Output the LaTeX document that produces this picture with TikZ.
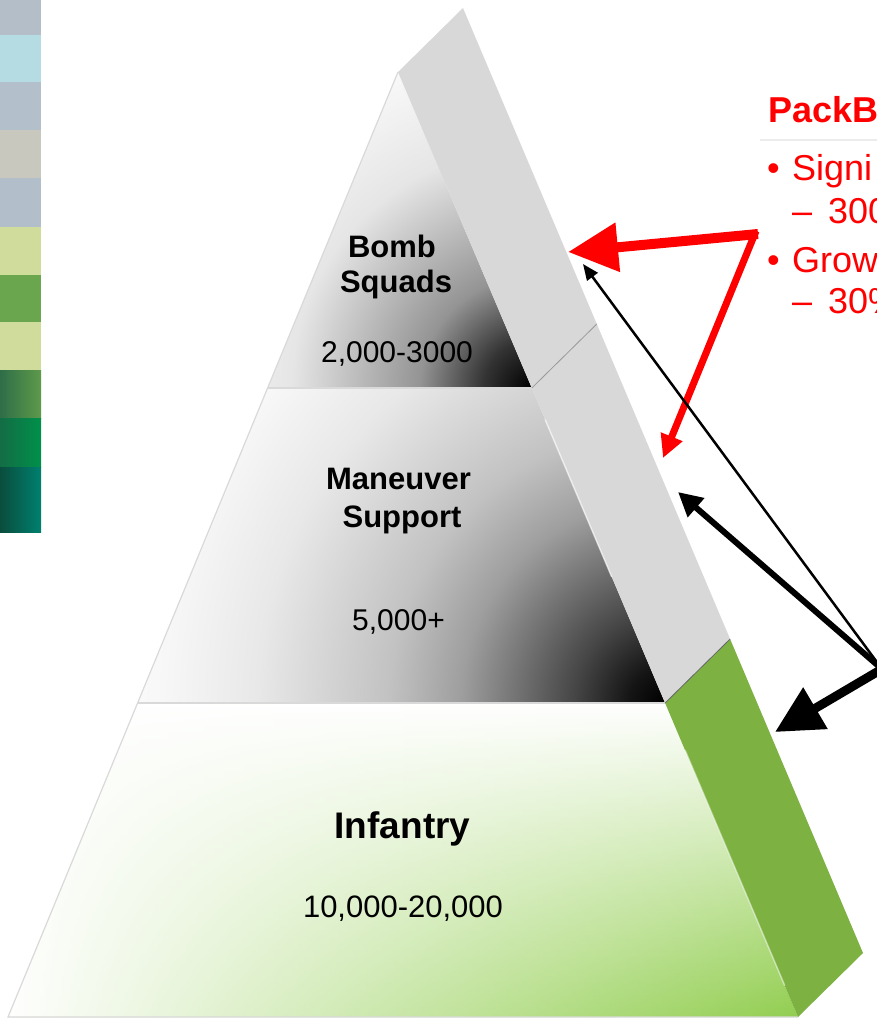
\documentclass[tikz,border=0pt]{standalone}
\usepackage{fontspec}
\setmainfont{Liberation Sans}
\usetikzlibrary{arrows.meta,fadings,calc}

\definecolor{sidegray}{RGB}{216,216,216}
\definecolor{sidegreen}{RGB}{125,178,66}
\definecolor{basegreen}{RGB}{146,206,80}
\definecolor{redtxt}{RGB}{255,0,0}
\definecolor{sA}{RGB}{180,190,200}
\definecolor{sB}{RGB}{181,219,227}
\definecolor{sC}{RGB}{179,191,202}
\definecolor{sD}{RGB}{200,200,190}
\definecolor{sE}{RGB}{178,191,202}
\definecolor{sF}{RGB}{208,220,156}
\definecolor{sG}{RGB}{106,166,78}
\definecolor{sH}{RGB}{208,220,156}
\definecolor{sIl}{RGB}{46,110,72}
\definecolor{sIr}{RGB}{94,154,74}
\definecolor{sJl}{RGB}{19,109,69}
\definecolor{sJr}{RGB}{0,144,74}
\definecolor{sKl}{RGB}{10,77,60}
\definecolor{sKr}{RGB}{0,128,112}

\pgfdeclareradialshading{darkA}{\pgfpoint{0bp}{0bp}}{color(0bp)=(black); color(3bp)=(black!80); color(7bp)=(black!42); color(12.5bp)=(black!20); color(15bp)=(black!10); color(21bp)=(black!3); color(25bp)=(white); color(50bp)=(white)}
\pgfdeclareradialshading{darkB}{\pgfpoint{0bp}{0bp}}{color(0bp)=(black); color(1.5bp)=(black!92); color(3.75bp)=(black!73); color(8.5bp)=(black!38); color(11.5bp)=(black!24); color(17bp)=(black!9); color(21bp)=(black!3); color(25bp)=(white); color(50bp)=(white)}
\tikzfading[name=fadeR, left color=transparent!0, middle color=transparent!65, right color=transparent!100]

\tikzset{
  lbl/.style={anchor=base, inner sep=0pt, font=\fontsize{30}{36}\selectfont},
  lblb/.style={lbl, font=\fontsize{31}{36}\selectfont\bfseries},
  lblbig/.style={lbl, font=\fontsize{37}{42}\selectfont\bfseries},
  rtxt/.style={anchor=base west, inner sep=0pt, text=redtxt, font=\fontsize{36}{42}\selectfont},
  rtxtb/.style={rtxt, font=\fontsize{36}{42}\selectfont\bfseries},
  outl/.style={draw=gray!30, line width=1.2pt},
}

\begin{document}
\begin{tikzpicture}[x=1pt,y=-1pt]
\useasboundingbox (0,0) rectangle (877,1021);
\clip (0,0) rectangle (877,1021);

% left colour strip
\fill[sA] (0,0) rectangle (41,35);
\fill[sB] (0,35) rectangle (41,82);
\fill[sC] (0,82) rectangle (41,130);
\fill[sD] (0,130) rectangle (41,178);
\fill[sE] (0,178) rectangle (41,227);
\fill[sF] (0,227) rectangle (41,275);
\fill[sG] (0,275) rectangle (41,322);
\fill[sH] (0,322) rectangle (41,370);
\shade[left color=sIl, right color=sIr] (0,370) rectangle (41,418);
\shade[left color=sJl, right color=sJr] (0,418) rectangle (41,467);
\shade[left color=sKl, right color=sKr] (0,467) rectangle (41,532);

% pyramid points
\coordinate (apex) at (398,72);
\coordinate (apexS) at (463,8);
\coordinate (L1) at (267.6,388);
\coordinate (R1) at (531.8,388);
\coordinate (S1) at (596.8,324);
\coordinate (L2) at (137.6,703);
\coordinate (R2) at (665.1,703);
\coordinate (S2) at (730.1,639);
\coordinate (L3) at (8,1017);
\coordinate (R3) at (798,1017);
\coordinate (S3) at (863,953);

% tier 1 front
\begin{scope}
  \clip (apex) -- (R1) -- (L1) -- cycle;
  \fill[white] (apex) -- (R1) -- (L1) -- cycle;
  \shade[shading=darkA] (R1) circle (400);
\end{scope}
% tier 2 front
\begin{scope}
  \clip (L1) -- (R1) -- (R2) -- (L2) -- cycle;
  \fill[white] (L1) -- (R1) -- (R2) -- (L2) -- cycle;
  \shade[shading=darkB] (R2) circle (600);
\end{scope}
% tier 3 front
\shade[top color=white, bottom color=basegreen] (L2) -- (R2) -- (R3) -- (L3) -- cycle;
\fill[white, path fading=fadeR] (L2) -- (R2) -- (R3) -- (L3) -- cycle;

% outlines of front
\draw[outl] (apex) -- (L3) -- (R3);
\draw[outl] (L1) -- (R1);
\draw[outl] (L2) -- (R2);

% side faces
\fill[sidegray] (apex) -- (apexS) -- (S1) -- (R1) -- cycle;
\fill[sidegray] (R1) -- (S1) -- (S2) -- (R2) -- cycle;
\fill[sidegreen] (R2) -- (S2) -- (S3) -- (R3) -- cycle;
\draw[gray!80, line width=0.8pt] (R1) -- (S1);
\draw[black!60, line width=0.8pt] (R2) -- (S2);
\draw[white, opacity=0.6, line width=1.5pt] ($(R1)!0.1!(R2)$) -- ($(R1)!0.6!(R2)$);
\draw[white, opacity=0.5, line width=1.5pt] ($(R2)!0.15!(R3)$) -- ($(R2)!0.9!(R3)$);

% labels
\node[lblb] (bomb) at (392,257) {Bomb};
\node[lblb] (squads) at (396,292) {Squads};
\node[lbl] (bombn) at (397,362) {2,000-3000};
\node[lblb] (man) at (398.5,489) {Maneuver};
\node[lblb] (supp) at (402,527) {Support};
\node[lbl] (mann) at (398.5,630) {5,000+};
\node[lblbig] (inf) at (402.5,838) {Infantry};
\node[lbl, font=\fontsize{31}{36}\selectfont] (infn) at (403,917) {10,000-20,000};

% red text block
\draw[gray!15, line width=2pt] (760,140) -- (877,140);
\node[rtxtb] (title) at (768,122) {PackB};
\node[rtxt] (bul1) at (767,180) {•};
\node[rtxt] (t1) at (792,180) {Signi};
\node[rtxt] (d1) at (792,223) {–\hspace{16pt}300};
\node[rtxt] (bul2) at (767,272) {•};
\node[rtxt] (t2) at (792,272) {Grow};
\node[rtxt] (d2) at (792,313) {–\hspace{16pt}30\%};

% arrows
\coordinate (redc) at (758,234);
\coordinate (redc2) at (756,231);
\coordinate (tipR1) at (568,252);
\coordinate (tipR2) at (663,458);
\coordinate (blk) at (882,669);
\coordinate (tipB1) at (583,264);
\coordinate (tipB2) at (678,492);
\coordinate (tipB3) at (775,732);

\draw[redtxt, line width=10pt, -{Triangle[length=50pt,width=47pt]}] (redc) -- (tipR1);
\draw[redtxt, line width=7pt, -{Triangle[length=23pt,width=22pt]}] (redc2) -- (tipR2);
\draw[black, line width=2.5pt, -{Triangle[length=16pt,width=13pt]}] (blk) -- (tipB1);
\draw[black, line width=6pt, -{Triangle[length=24pt,width=24pt]}] (blk) -- (tipB2);
\draw[black, line width=9pt, -{Triangle[length=47pt,width=46pt]}] (blk) -- (tipB3);
\end{tikzpicture}
\end{document}
